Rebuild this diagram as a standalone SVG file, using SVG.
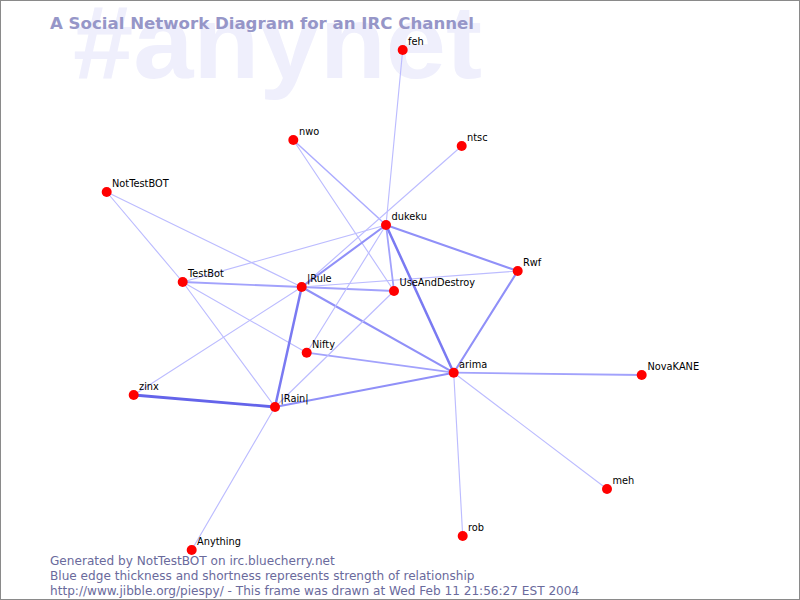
<svg xmlns="http://www.w3.org/2000/svg" width="800" height="600" viewBox="0 0 800 600">
<style>
.bg{fill:#ffffff;stroke:#8a8a8a;stroke-width:1}
.wm{font-family:"Liberation Sans",Arial,sans-serif;font-weight:bold;font-size:103px;fill:#efeffc}
.title{font-family:"DejaVu Sans",sans-serif;font-weight:bold;font-size:16.6px;fill:#9696c8}
.foot{font-family:"DejaVu Sans",sans-serif;font-size:12.1px;fill:#6a6a9c}
.lbl{font-family:"DejaVu Sans",sans-serif;font-size:9.8px;fill:#000000}
.n{fill:#ff0000}
line{stroke-linecap:round}
.e1{stroke:#bcbcff;stroke-width:1.15}
.e15{stroke:#acacff;stroke-width:1.5}
.e2{stroke:#a2a2fc;stroke-width:1.8}
.e3{stroke:#9090f8;stroke-width:2.1}
.e4{stroke:#7a7af2;stroke-width:2.5}
.e5{stroke:#6464ea;stroke-width:2.8}
</style>
<rect class="bg" x="0.5" y="0.5" width="799" height="599"/>
<text class="wm" x="73" y="78" textLength="409" lengthAdjust="spacingAndGlyphs">#anynet</text>
<text class="title" x="50" y="29">A Social Network Diagram for an IRC Channel</text>
<g id="edges">
<line class="e1" x1="402.7" y1="50" x2="386" y2="225"/>
<line class="e15" x1="293.3" y1="140" x2="386" y2="225"/>
<line class="e1" x1="293.3" y1="140" x2="394" y2="291"/>
<line class="e1" x1="461.7" y1="146" x2="301.7" y2="287"/>
<line class="e1" x1="106.7" y1="192" x2="182.7" y2="282"/>
<line class="e1" x1="106.7" y1="192" x2="301.7" y2="287"/>
<line class="e2" x1="182.7" y1="282" x2="301.7" y2="287"/>
<line class="e1" x1="182.7" y1="282" x2="386" y2="225"/>
<line class="e1" x1="182.7" y1="282" x2="306.7" y2="352.7"/>
<line class="e1" x1="182.7" y1="282" x2="275" y2="407"/>
<line class="e5" x1="133.7" y1="395" x2="275" y2="407"/>
<line class="e1" x1="133.7" y1="395" x2="301.7" y2="287"/>
<line class="e4" x1="301.7" y1="287" x2="275" y2="407"/>
<line class="e3" x1="301.7" y1="287" x2="453.7" y2="372.7"/>
<line class="e2" x1="301.7" y1="287" x2="394" y2="291"/>
<line class="e1" x1="301.7" y1="287" x2="517.7" y2="271"/>
<line class="e3" x1="301.7" y1="287" x2="386" y2="225"/>
<line class="e2" x1="386" y1="225" x2="394" y2="291"/>
<line class="e4" x1="386" y1="225" x2="453.7" y2="372.7"/>
<line class="e3" x1="386" y1="225" x2="517.7" y2="271"/>
<line class="e1" x1="386" y1="225" x2="306.7" y2="352.7"/>
<line class="e3" x1="453.7" y1="372.7" x2="517.7" y2="271"/>
<line class="e3" x1="453.7" y1="372.7" x2="275" y2="407"/>
<line class="e2" x1="453.7" y1="372.7" x2="306.7" y2="352.7"/>
<line class="e2" x1="453.7" y1="372.7" x2="641.7" y2="375"/>
<line class="e1" x1="453.7" y1="372.7" x2="607" y2="489"/>
<line class="e1" x1="453.7" y1="372.7" x2="462.7" y2="536"/>
<line class="e1" x1="275" y1="407" x2="191.7" y2="550"/>
<line class="e1" x1="275" y1="407" x2="394" y2="291"/>
</g>
<g id="feh"><circle class="n" cx="402.7" cy="50" r="5"/><text class="lbl" x="408" y="45">feh</text></g>
<g id="nwo"><circle class="n" cx="293.3" cy="140" r="5"/><text class="lbl" x="299" y="135">nwo</text></g>
<g id="ntsc"><circle class="n" cx="461.7" cy="146" r="5"/><text class="lbl" x="467" y="141">ntsc</text></g>
<g id="NotTestBOT"><circle class="n" cx="106.7" cy="192" r="5"/><text class="lbl" x="112" y="187">NotTestBOT</text></g>
<g id="TestBot"><circle class="n" cx="182.7" cy="282" r="5"/><text class="lbl" x="188" y="277">TestBot</text></g>
<g id="dukeku"><circle class="n" cx="386" cy="225" r="5"/><text class="lbl" x="391.5" y="220">dukeku</text></g>
<g id="Rule"><circle class="n" cx="301.7" cy="287" r="5"/><text class="lbl" x="307" y="282">|Rule</text></g>
<g id="UseAndDestroy"><circle class="n" cx="394" cy="291" r="5"/><text class="lbl" x="399.5" y="286">UseAndDestroy</text></g>
<g id="Rwf"><circle class="n" cx="517.7" cy="271" r="5"/><text class="lbl" x="523" y="266">Rwf</text></g>
<g id="Nifty"><circle class="n" cx="306.7" cy="352.7" r="5"/><text class="lbl" x="312" y="347.5">Nifty</text></g>
<g id="arima"><circle class="n" cx="453.7" cy="372.7" r="5"/><text class="lbl" x="459" y="367.5">arima</text></g>
<g id="zinx"><circle class="n" cx="133.7" cy="395" r="5"/><text class="lbl" x="139" y="390">zinx</text></g>
<g id="Rain"><circle class="n" cx="275" cy="407" r="5"/><text class="lbl" x="280.5" y="402">|Rain|</text></g>
<g id="NovaKANE"><circle class="n" cx="641.7" cy="375" r="5"/><text class="lbl" x="647.5" y="370">NovaKANE</text></g>
<g id="meh"><circle class="n" cx="607" cy="489" r="5"/><text class="lbl" x="612.5" y="484">meh</text></g>
<g id="rob"><circle class="n" cx="462.7" cy="536" r="5"/><text class="lbl" x="468" y="531">rob</text></g>
<g id="Anything"><circle class="n" cx="191.7" cy="550" r="5"/><text class="lbl" x="197" y="545">Anything</text></g>
<text class="foot" x="50" y="565">Generated by NotTestBOT on irc.bluecherry.net</text>
<text class="foot" x="50" y="580">Blue edge thickness and shortness represents strength of relationship</text>
<text class="foot" x="50" y="595">http://www.jibble.org/piespy/ - This frame was drawn at Wed Feb 11 21:56:27 EST 2004</text>
</svg>
